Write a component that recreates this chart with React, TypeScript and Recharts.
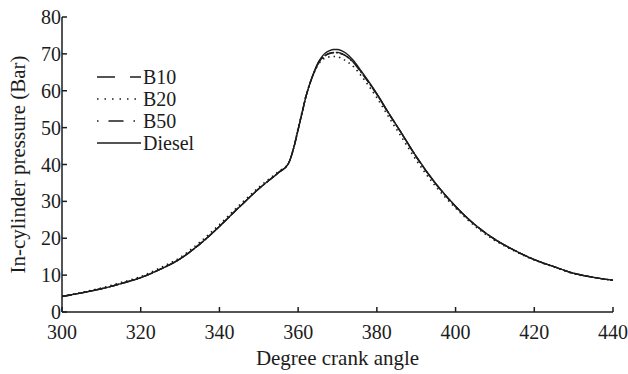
import { LineChart, Line, XAxis, YAxis, Legend } from "recharts";

const ANGLES = [300, 305, 310, 315, 320, 325, 330, 335, 340, 345, 350, 355, 357.5, 359, 360, 361, 362, 363, 364, 365, 366, 367, 368, 369, 370, 371, 372, 374, 376, 378, 380, 383, 386, 390, 395, 400, 405, 410, 415, 420, 425, 430, 435, 440];

const DIESEL = [4.2, 5.2, 6.3, 7.7, 9.3, 11.6, 14.4, 18.4, 23.2, 28.4, 33.4, 37.8, 40.2, 45, 49.5, 54, 58.5, 62, 65, 67.5, 69.2, 70.3, 70.9, 71.2, 71.2, 70.9, 70.3, 68.3, 65.4, 62.4, 59.2, 54, 49, 42.2, 34.8, 28.7, 23.6, 19.7, 16.7, 14.2, 12.3, 10.5, 9.4, 8.6];
const B10 = [4.2, 5.2, 6.3, 7.7, 9.3, 11.6, 14.4, 18.4, 23.2, 28.4, 33.4, 37.8, 40.2, 45, 49.5, 54, 58.5, 62, 64.8, 67.2, 68.8, 69.7, 70.2, 70.4, 70.4, 70.1, 69.6, 67.8, 65.1, 62.2, 59.1, 53.9, 48.9, 42.1, 34.7, 28.6, 23.6, 19.7, 16.7, 14.2, 12.3, 10.5, 9.4, 8.6];
const B20 = [4.2, 5.3, 6.5, 8, 9.6, 12, 14.8, 18.9, 23.7, 28.9, 33.8, 38.1, 40.3, 45.2, 49.8, 54.3, 58.7, 62, 64.8, 66.9, 68.3, 68.9, 69.2, 69.3, 69.2, 68.8, 68.2, 66.6, 64.1, 61.2, 58.1, 52.9, 47.9, 41.2, 34, 28.2, 23.2, 19.4, 16.5, 14.1, 12.2, 10.4, 9.4, 8.6];
const B50 = [4.2, 5.2, 6.3, 7.7, 9.3, 11.6, 14.4, 18.4, 23.2, 28.4, 33.4, 37.8, 40.2, 45, 49.5, 54, 58.5, 62, 64.8, 67.2, 68.7, 69.6, 70.1, 70.3, 70.3, 70, 69.5, 67.7, 65, 62.1, 59, 53.8, 48.9, 42.1, 34.7, 28.6, 23.6, 19.7, 16.7, 14.2, 12.3, 10.5, 9.4, 8.6];

const X_TICKS = [300, 320, 340, 360, 380, 400, 420, 440];
const Y_TICKS = [0, 10, 20, 30, 40, 50, 60, 70, 80];

const SERIES = [
  { key: "b10", name: "B10", values: B10, dash: "10 2", legendDash: "18 15" },
  { key: "b20", name: "B20", values: B20, dash: "1.5 4", legendDash: "1.5 6" },
  { key: "b50", name: "B50", values: B50, dash: "10 2 2 2", legendDash: "1.5 10 15 10" },
  { key: "diesel", name: "Diesel", values: DIESEL, dash: undefined, legendDash: undefined },
];

const data = ANGLES.map((a, i) => {
  const row: Record<string, number> = { angle: a };
  SERIES.forEach((s) => (row[s.key] = s.values[i]));
  return row;
});

const FONT = "'Liberation Serif', 'Times New Roman', serif";
const INK = "#1c1c1c";

function LegendBox() {
  return (
    <div style={{ fontFamily: FONT, fontSize: 20, color: INK, lineHeight: "22px", whiteSpace: "nowrap" }}>
      {SERIES.map((s) => (
        <div key={s.key} style={{ display: "flex", alignItems: "center", height: 22 }}>
          <svg width={46} height={6} style={{ flex: "0 0 46px" }}>
            <line x1={0} y1={3} x2={44} y2={3} stroke={INK} strokeWidth={1.4} strokeDasharray={s.legendDash} />
          </svg>
          <span>{s.name}</span>
        </div>
      ))}
    </div>
  );
}

export default function App() {
  return (
    <div style={{ width: 628, height: 374 }}>
      <style>{"body{margin:0}"}</style>
      <LineChart width={628} height={374} data={data} margin={{ top: 17, right: 15, bottom: 0, left: 0 }}>
        <XAxis
          dataKey="angle"
          type="number"
          domain={[300, 440]}
          ticks={X_TICKS}
          height={62}
          tickSize={-5}
          tickMargin={18}
          stroke={INK}
          strokeWidth={1.5}
          tick={{ fill: INK, fontSize: 20, fontFamily: FONT }}
          label={{ value: "Degree crank angle", position: "insideBottom", offset: 9, style: { fill: INK, fontSize: 21, fontFamily: FONT } }}
        />
        <XAxis
          xAxisId="top"
          orientation="top"
          dataKey="angle"
          type="number"
          domain={[300, 440]}
          ticks={X_TICKS}
          height={0}
          tickSize={-5}
          stroke={INK}
          strokeWidth={1.5}
          tick={() => <g />}
        />
        <YAxis
          type="number"
          domain={[0, 80]}
          ticks={Y_TICKS}
          width={62}
          tickSize={-5}
          tickMargin={6}
          stroke={INK}
          strokeWidth={1.5}
          tick={{ fill: INK, fontSize: 20, fontFamily: FONT }}
          label={{ value: "In-cylinder pressure (Bar)", angle: -90, position: "insideLeft", offset: 18, style: { fill: INK, fontSize: 21, fontFamily: FONT, textAnchor: "middle" } }}
        />
        <YAxis
          yAxisId="right"
          orientation="right"
          type="number"
          domain={[0, 80]}
          ticks={Y_TICKS}
          width={0}
          tickSize={-5}
          stroke={INK}
          strokeWidth={1.5}
          tick={() => <g />}
        />
        <Legend
          layout="horizontal"
          align="center"
          verticalAlign="middle"
          content={() => <LegendBox />}
          wrapperStyle={{ left: 97, top: 66, width: 120 }}
        />
        {SERIES.map((s) => (
          <Line
            key={s.key}
            dataKey={s.key}
            name={s.name}
            type="monotone"
            stroke={INK}
            strokeWidth={s.key === "b20" ? 1.6 : 1.4}
            strokeDasharray={s.dash}
            dot={false}
            isAnimationActive={false}
          />
        ))}
      </LineChart>
    </div>
  );
}
